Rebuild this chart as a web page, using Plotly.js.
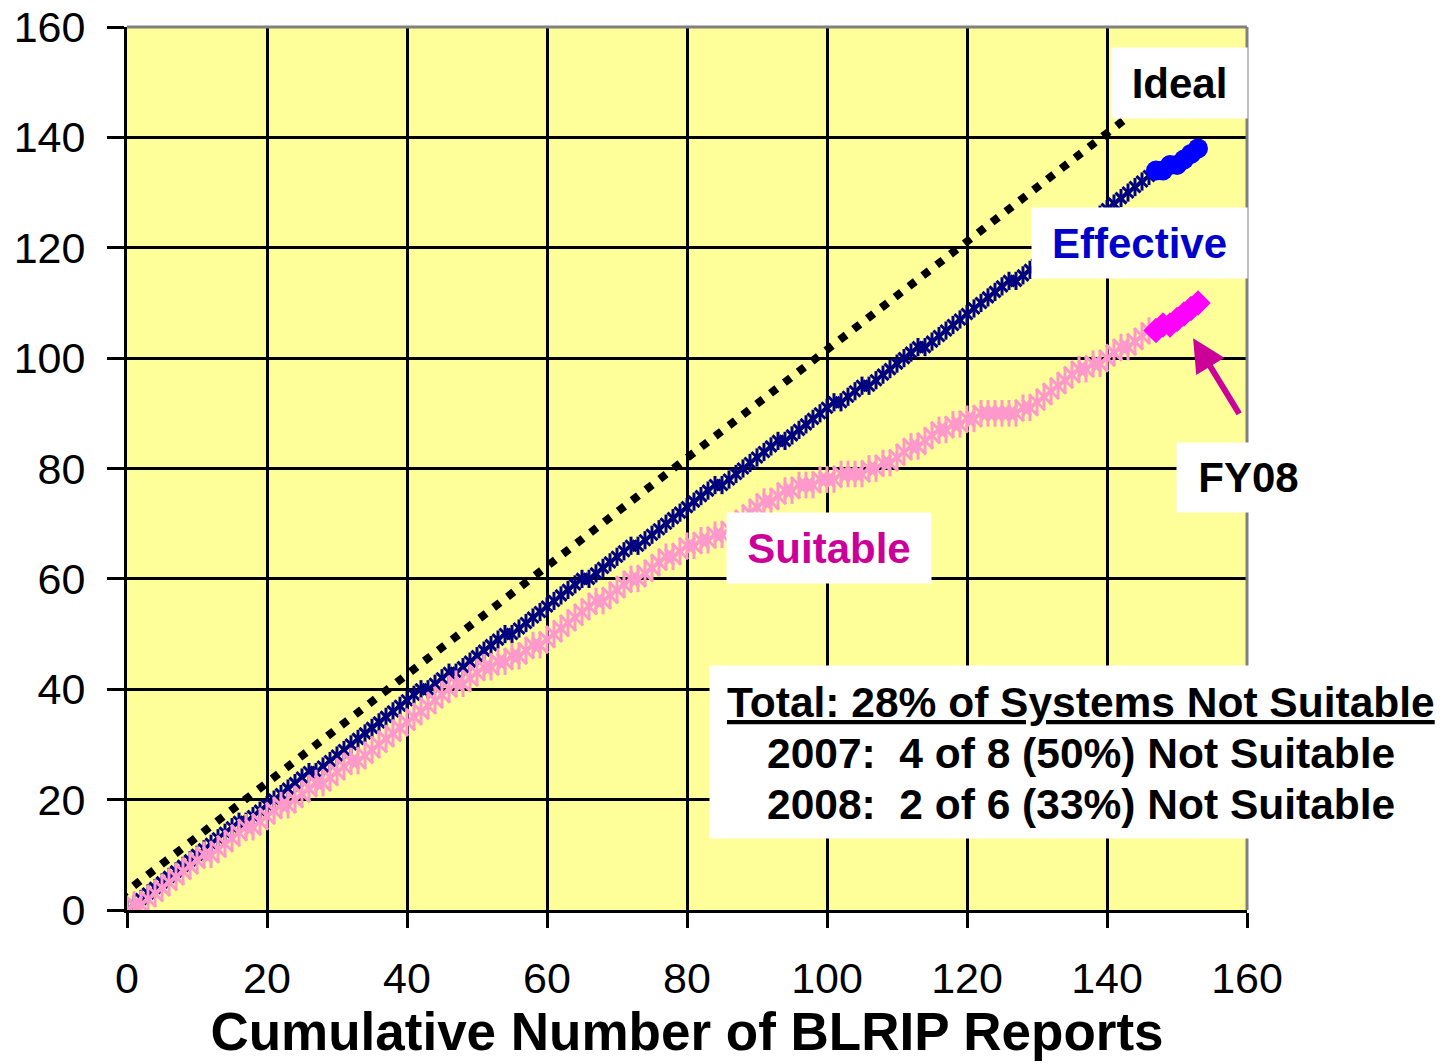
<!DOCTYPE html>
<html>
<head>
<meta charset="utf-8">
<script src="https://cdn.plot.ly/plotly-3.0.1.min.js"></script>
<style>html,body{margin:0;padding:0;background:#fff;}#chart{width:1456px;height:1064px;}</style>
</head>
<body>
<div id="chart"></div>
<script>
// ---- data ----
const reports = [0,1,2,3,4,5,6,7,8,9,10,
  11,12,13,14,15,16,17,18,19,20,
  21,22,23,24,25,26,27,28,29,30,
  31,32,33,34,35,36,37,38,39,40,
  41,42,43,44,45,46,47,48,49,50,
  51,52,53,54,55,56,57,58,59,60,
  61,62,63,64,65,66,67,68,69,70,
  71,72,73,74,75,76,77,78,79,80,
  81,82,83,84,85,86,87,88,89,90,
  91,92,93,94,95,96,97,98,99,100,
  101,102,103,104,105,106,107,108,109,110,
  111,112,113,114,115,116,117,118,119,120,
  121,122,123,124,125,126,127,128,129,130,
  131,132,133,134,135,136,137,138,139,140,
  141,142,143,144,145,146];

const effective = [0,1,2,3,4,5,6,7,8,9,10,
  11,12,13,14,15,16,16,17,18,19,
  20,21,22,23,24,25,25,26,27,28,
  29,30,31,32,33,34,35,36,37,38,
  39,40,40,41,42,43,43,44,45,46,
  47,48,49,50,50,51,52,53,54,55,
  56,57,58,59,60,60,61,62,63,64,
  65,66,66,67,68,69,70,71,72,73,
  74,75,76,77,77,78,79,80,81,82,
  83,84,85,85,86,87,88,89,90,91,
  92,92,93,94,95,95,96,97,98,99,
  100,101,102,102,103,104,105,106,107,108,
  109,110,111,112,113,114,114,115,116,117,
  118,119,120,121,122,123,124,125,126,127,
  128,129,130,131,132,133];

const suitable = [0,1,1,2,3,4,5,6,7,8,9,
  10,10,11,12,13,14,15,15,16,17,
  18,19,19,20,21,22,23,23,24,25,
  26,27,27,28,29,30,31,32,33,34,
  35,36,37,38,39,40,41,41,42,43,
  44,44,45,45,46,46,47,48,48,49,
  50,51,52,53,54,55,56,56,57,58,
  59,60,60,61,62,63,64,64,65,66,
  66,67,67,68,68,69,70,71,72,73,
  74,74,75,76,76,77,77,77,78,78,
  78,79,79,79,79,80,80,81,81,82,
  83,84,84,85,86,87,87,88,88,89,
  89,90,90,90,90,90,90,91,91,92,
  93,94,95,96,97,98,98,99,99,100,
  101,102,102,103,104,105];

const reportsFY08   = [147,148,149,150,151,152,153];
const effectiveFY08 = [134,134,135,135,136,137,138];
const suitableFY08  = [105,106,106,107,108,109,110];

const idealX = [-3, 153];
const idealY = [0.5, 153.5];

const axisTicks = [0,20,40,60,80,100,120,140,160];

const xTitle = 'Cumulative Number of BLRIP Reports';
const noteLines = ['<u>Total: 28% of Systems Not Suitable</u>',
                   '2007:  4 of 8 (50%) Not Suitable',
                   '2008:  2 of 6 (33%) Not Suitable'];

// ---- styling ----
const FONT = 'Arial, "Liberation Sans", sans-serif';
const NAVY = '#000080', PINK = '#FF99CC';

const traces = [
  {x: idealX, y: idealY, mode: 'lines', name: 'Ideal',
   line: {color: '#000000', width: 8, dash: '8px,9.5px'}, hoverinfo: 'skip'},
  {x: reports, y: effective, mode: 'lines+markers', name: 'Effective',
   line: {color: NAVY, width: 3},
   marker: {symbol: 'x-thin-open', size: 11, line: {color: NAVY, width: 3}, color: NAVY}},
  {x: reports, y: effective, mode: 'markers', showlegend: false, hoverinfo: 'skip',
   marker: {symbol: 'line-ns-open', size: 13, line: {color: NAVY, width: 3}, color: NAVY}},
  {x: reports, y: suitable, mode: 'lines+markers', name: 'Suitable',
   line: {color: PINK, width: 3},
   marker: {symbol: 'x-thin-open', size: 16, line: {color: PINK, width: 3}, color: PINK}},
  {x: reports, y: suitable, mode: 'markers', showlegend: false, hoverinfo: 'skip',
   marker: {symbol: 'line-ns-open', size: 19, line: {color: PINK, width: 3}, color: PINK}},
  {x: reportsFY08, y: effectiveFY08, mode: 'lines+markers', name: 'Effective FY08',
   line: {color: '#0000FF', width: 14},
   marker: {symbol: 'circle', size: 20, color: '#0000FF'}},
  {x: reportsFY08, y: suitableFY08, mode: 'lines+markers', name: 'Suitable FY08',
   line: {color: '#FF00FF', width: 15},
   marker: {symbol: 'square', size: 18, angle: 45, color: '#FF00FF'}}
];

function box(text, x, y, w, h, color, ref) {
  return {text: text ? '<b>' + text + '</b>' : '', x: x, y: y,
    xref: ref ? 'paper' : 'x', yref: ref ? 'paper' : 'y',
    xanchor: 'center', yanchor: 'middle', showarrow: false,
    bgcolor: '#FFFFFF', width: w, height: h, borderpad: 0,
    font: {family: FONT, size: 42, color: color}};
}
function line(text, y) {
  return {text: '<b>' + text + '</b>', x: 136.3, y: y, xref: 'x', yref: 'y',
    xanchor: 'center', yanchor: 'middle', showarrow: false,
    font: {family: FONT, size: 42.5, color: '#000000'}};
}

const annotations = [
  box('Ideal', 150.4, 149.8, 135, 70, '#000000'),
  box('Effective', 144.6, 120.8, 215, 70, '#0000CC'),
  box('Suitable', 100.3, 65.6, 204, 70, '#CC0099'),
  box('FY08', (1248.5 - 127) / 1120, (910 - 477.5) / 883, 143, 69, '#000000', true),
  box('', 135.8, 28.6, 735, 172, '#000000'),
  line(noteLines[0], 37.6),
  line(noteLines[1], 28.4),
  line(noteLines[2], 19.2),
  {text: '', x: 152.3, y: 103.6, xref: 'x', yref: 'y',
   ax: 47, ay: 77, axref: 'pixel', ayref: 'pixel', showarrow: true,
   arrowhead: 2, arrowsize: 1.1, arrowwidth: 6, arrowcolor: '#CC0099', standoff: 0}
];

const axisCommon = {
  range: [0, 160], tickvals: axisTicks, ticktext: axisTicks.map(String),
  showgrid: true, gridcolor: '#000000', gridwidth: 3,
  zeroline: false, showline: true, linecolor: '#000000', linewidth: 3,
  ticks: 'outside', tickcolor: '#000000', tickwidth: 3,
  tickfont: {family: FONT, size: 43, color: '#000000'}, fixedrange: true
};

const layout = {
  width: 1456, height: 1064,
  margin: {l: 127, r: 209, t: 27, b: 154},
  paper_bgcolor: '#FFFFFF', plot_bgcolor: '#FFFF99',
  showlegend: false,
  font: {family: FONT, color: '#000000'},
  xaxis: Object.assign({}, axisCommon, {ticklen: 15, ticklabelstandoff: 13,
    title: {text: '<b>' + xTitle + '</b>', font: {family: FONT, size: 53, color: '#000000'}, standoff: 13}}),
  yaxis: Object.assign({}, axisCommon, {ticklen: 17, ticklabelstandoff: 13}),
  annotations: annotations,
  shapes: [
    {type: 'line', xref: 'paper', yref: 'paper', x0: 0, x1: 1, y0: 1, y1: 1,
     line: {color: '#808080', width: 3}, layer: 'above'},
    {type: 'line', xref: 'paper', yref: 'paper', x0: 1, x1: 1, y0: 0, y1: 1,
     line: {color: '#808080', width: 3}, layer: 'above'}
  ]
};

Plotly.newPlot('chart', traces, layout, {displayModeBar: false, staticPlot: true});
</script>
</body>
</html>
